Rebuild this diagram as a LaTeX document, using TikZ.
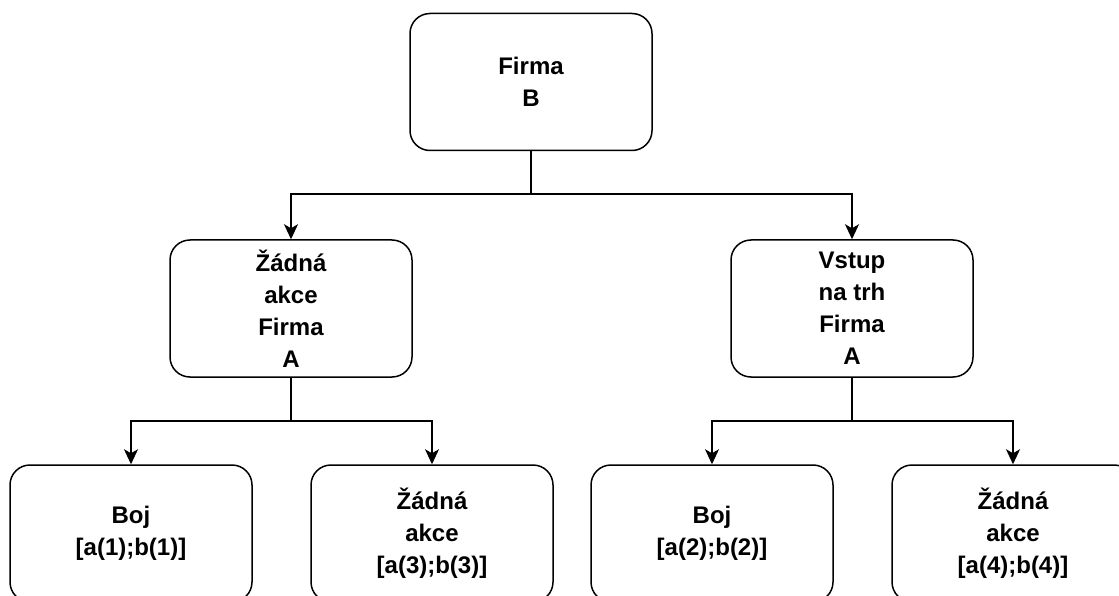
\documentclass[tikz,border=0pt]{standalone}
\usepackage{fontspec}
\setmainfont{Liberation Sans}
\usetikzlibrary{arrows.meta}
\tikzset{
  box/.style={draw=black, line width=1.5pt, rounded corners=20pt, rectangle,
    minimum width=242pt, minimum height=137pt, align=center, inner sep=0pt,
    font=\fontsize{24}{32}\selectfont\bfseries},
  conn/.style={draw=black, line width=1.5pt, -{Stealth[length=15pt,width=14pt,inset=4pt]}}
}
\begin{document}
\begin{tikzpicture}[x=1pt,y=-1pt]
\clip (0,0) rectangle (1119,596);
\fill[white] (0,0) rectangle (1119,596);
\node[box] (top) at (531,82) {Firma\\B};
\node[box] (ml) at (291,308.5) {Žádná\\akce\\Firma\\A};
\node[box] (mr) at (852,308.5) {Vstup\\na trh\\Firma\\A};
\node[box] (b1) at (131,533.5) {Boj\\{[a(1);b(1)]}};
\node[box] (b2) at (432,533.5) {Žádná\\akce\\{[a(3);b(3)]}};
\node[box] (b3) at (712,533.5) {Boj\\{[a(2);b(2)]}};
\node[box] (b4) at (1013,533.5) {Žádná\\akce\\{[a(4);b(4)]}};
\draw[conn] (top.south) -- ++(0,43) -| (ml.north);
\draw[conn] (top.south) -- ++(0,43) -| (mr.north);
\draw[conn] (ml.south) -- ++(0,43) -| (b1.north);
\draw[conn] (ml.south) -- ++(0,43) -| (b2.north);
\draw[conn] (mr.south) -- ++(0,43) -| (b3.north);
\draw[conn] (mr.south) -- ++(0,43) -| (b4.north);
\end{tikzpicture}
\end{document}
